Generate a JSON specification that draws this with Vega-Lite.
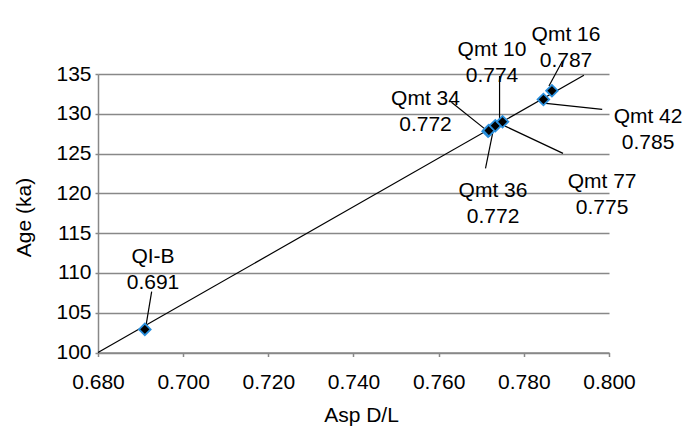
{
  "$schema": "https://vega.github.io/schema/vega-lite/v6.json",
  "width": 511,
  "height": 278.5,
  "autosize": {"type": "none"},
  "padding": {"left": 98, "top": 74, "right": 75, "bottom": 73.5},
  "background": "white",
  "config": {
    "view": {"stroke": null},
    "font": "Liberation Sans",
    "axis": {
      "domainColor": "#888888", "domainWidth": 1.5,
      "tickColor": "#888888", "tickWidth": 1.5,
      "labelFontSize": 21, "labelColor": "black",
      "labelOverlap": false, "labelFlush": false, "labelBound": false,
      "titleFontSize": 21, "titleFontWeight": "normal", "titleColor": "black"
    },
    "axisX": {
      "grid": false, "tickSize": 4, "labelBaseline": "middle", "labelPadding": 26,
      "titleX": 263, "titleY": 69, "titleBaseline": "alphabetic", "titleAlign": "center"
    },
    "axisY": {
      "grid": true, "gridColor": "#888888", "gridWidth": 1.5, "tickSize": 3, "labelPadding": 4,
      "titleX": -74, "titleY": 143, "titleAngle": 270, "titleBaseline": "middle", "titleAlign": "center"
    }
  },
  "datasets": {
    "trend": [
      {"dl": 0.680, "age": 100.0},
      {"dl": 0.7941, "age": 134.84}
    ],
    "samples": [
      {"name": "QI-B", "dl": 0.6910, "age": 102.9, "label": "QI-B\n0.691", "lx": 0.69292, "ly": 111.94, "x1": 0.6926, "y1": 107.64, "x2": 0.6913, "y2": 103.46},
      {"name": "Qmt 34", "dl": 0.7716, "age": 127.8, "label": "Qmt 34\n0.772", "lx": 0.75691, "ly": 131.88, "x1": 0.7630, "y1": 131.44, "x2": 0.7712, "y2": 127.95},
      {"name": "Qmt 36", "dl": 0.7718, "age": 127.9, "label": "Qmt 36\n0.772", "lx": 0.77277, "ly": 120.31, "x1": 0.7710, "y1": 123.15, "x2": 0.7727, "y2": 127.62},
      {"name": "Qmt 10", "dl": 0.7733, "age": 128.5, "label": "Qmt 10\n0.774", "lx": 0.77253, "ly": 138.05, "x1": 0.7743, "y1": 134.75, "x2": 0.7743, "y2": 129.13},
      {"name": "Qmt 77", "dl": 0.7750, "age": 129.0, "label": "Qmt 77\n0.775", "lx": 0.79837, "ly": 121.47, "x1": 0.7756, "y1": 128.45, "x2": 0.7892, "y2": 125.03},
      {"name": "Qmt 42", "dl": 0.7846, "age": 131.8, "label": "Qmt 42\n0.785", "lx": 0.80917, "ly": 129.63, "x1": 0.7852, "y1": 131.3, "x2": 0.7984, "y2": 130.55},
      {"name": "Qmt 16", "dl": 0.7866, "age": 132.9, "label": "Qmt 16\n0.787", "lx": 0.7899, "ly": 139.94, "x1": 0.7891, "y1": 136.67, "x2": 0.7859, "y2": 133.49}
    ]
  },
  "layer": [
    {
      "data": {"name": "trend"},
      "mark": {"type": "line", "color": "black", "strokeWidth": 1.2},
      "encoding": {
        "x": {"field": "dl", "type": "quantitative", "title": "Asp D/L",
          "scale": {"domain": [0.68, 0.8], "nice": false, "zero": false},
          "axis": {"values": [0.68, 0.70, 0.72, 0.74, 0.76, 0.78, 0.80], "format": ".3f"}},
        "y": {"field": "age", "type": "quantitative", "title": "Age (ka)",
          "scale": {"domain": [100, 135], "nice": false, "zero": false},
          "axis": {"values": [100, 105, 110, 115, 120, 125, 130, 135]}}
      }
    },
    {
      "data": {"name": "samples"},
      "mark": {"type": "rule", "color": "black", "strokeWidth": 1.2},
      "encoding": {
        "x": {"field": "x1", "type": "quantitative", "title": "Asp D/L",
          "axis": {"values": [0.68, 0.70, 0.72, 0.74, 0.76, 0.78, 0.80], "format": ".3f"}},
        "y": {"field": "y1", "type": "quantitative", "title": "Age (ka)",
          "axis": {"values": [100, 105, 110, 115, 120, 125, 130, 135]}},
        "x2": {"field": "x2"},
        "y2": {"field": "y2"}
      }
    },
    {
      "data": {"name": "samples"},
      "mark": {"type": "point", "shape": "diamond", "filled": true, "fill": "black", "stroke": "#2a8fdc", "strokeWidth": 1.8, "size": 135, "opacity": 1},
      "encoding": {
        "x": {"field": "dl", "type": "quantitative", "title": "Asp D/L",
          "axis": {"values": [0.68, 0.70, 0.72, 0.74, 0.76, 0.78, 0.80], "format": ".3f"}},
        "y": {"field": "age", "type": "quantitative", "title": "Age (ka)",
          "axis": {"values": [100, 105, 110, 115, 120, 125, 130, 135]}}
      }
    },
    {
      "data": {"name": "samples"},
      "mark": {"type": "text", "lineBreak": "\n", "lineHeight": 26, "fontSize": 21, "align": "center", "baseline": "middle", "color": "black"},
      "encoding": {
        "x": {"field": "lx", "type": "quantitative", "title": "Asp D/L",
          "axis": {"values": [0.68, 0.70, 0.72, 0.74, 0.76, 0.78, 0.80], "format": ".3f"}},
        "y": {"field": "ly", "type": "quantitative", "title": "Age (ka)",
          "axis": {"values": [100, 105, 110, 115, 120, 125, 130, 135]}},
        "text": {"field": "label"}
      }
    }
  ]
}
